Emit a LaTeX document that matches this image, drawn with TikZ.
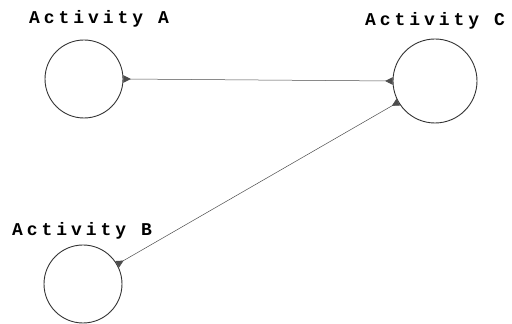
\documentclass[tikz,border=0pt]{standalone}
\usepackage{fontspec}
\setmonofont{Liberation Mono}
\usetikzlibrary{arrows.meta}

\begin{document}
\begin{tikzpicture}[
    every node/.style={font=\fontsize{18}{20}\ttfamily\bfseries\addfontfeatures{LetterSpace=22}},
    act/.style={draw=black!80,circle,line width=0.9pt,inner sep=0pt},
    lnk/.style={{Triangle[reversed,length=2.6mm,width=2.6mm]}-{Triangle[reversed,length=2.6mm,width=2.6mm]},
                draw=black!70,line width=0.5pt},
    x=1pt,y=1pt,
  ]
    \useasboundingbox (0,0) rectangle (512,324);
    \node[act,minimum size=78pt] (a) at (84,245) {};
    \node[act,minimum size=84pt] (c) at (435,243) {};
    \node[act,minimum size=78pt] (b) at (83,40) {};
    \node (la) at (99,305) {Activity A};
    \node (lc) at (435,303) {Activity C};
    \node (lb) at (82,93) {Activity B};
    \draw[lnk] (a.east) -- (c.west);
    \draw[lnk] (b) -- (c);
  \end{tikzpicture}
\end{document}
